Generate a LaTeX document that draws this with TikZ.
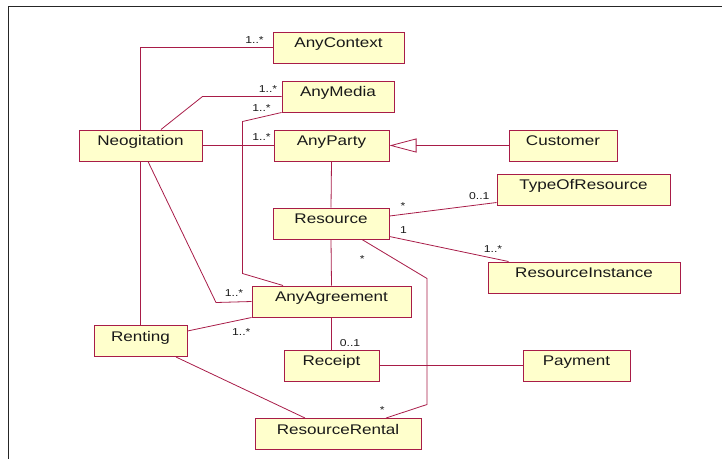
\documentclass[tikz,border=0pt]{standalone}
\usepackage{fontspec}
\setmainfont{Liberation Sans}[FakeStretch=1.22]
\usepackage{tikz}
\usetikzlibrary{arrows.meta}
\definecolor{umlline}{RGB}{168,28,72}
\definecolor{umlfill}{RGB}{255,255,204}
\definecolor{umltext}{RGB}{25,25,25}
\tikzset{% 
  cls/.style = {
    shape=rectangle, draw=umlline, line width=1pt, fill=umlfill,
    text=umltext, inner xsep=0pt, inner ysep=0pt,
    text height=15.5pt, text depth=15.5pt,
    font=\fontsize{14}{16}\selectfont
  },
  mult/.style = {anchor=base, inner sep=0pt, text=umltext,
    font=\fontsize{10}{12}\selectfont},
  assoc/.style = {draw=umlline, line width=0.8pt},
  inherit/.style = {assoc, -{Triangle[open, length=27pt, width=14pt, line width=0.8pt]}}
}

\begin{document}
\begin{tikzpicture}[x=1pt,y=-1pt]
	\useasboundingbox (0,0) rectangle (722,459);
	\draw[line width=1.6pt, black!85] (722,6.5) -- (8.5,6.5) -- (8.5,459);

	\node[cls, minimum width=131] (ctx) at (338.5,47.5) {AnyContext};
	\node[cls, minimum width=112] (media) at (338,96.5) {AnyMedia};
	\node[cls, minimum width=123] (neg) at (140.5,145.5) {Neogitation};
	\node[cls, minimum width=115] (party) at (331.5,145.5) {AnyParty};
	\node[cls, minimum width=108] (cust) at (563,145.5) {Customer};
	\node[cls, minimum width=173] (tor) at (583.5,189.5) {TypeOfResource};
	\node[cls, minimum width=116] (res) at (331,223.5) {Resource};
	\node[cls, minimum width=192] (ri) at (584,277.5) {ResourceInstance};
	\node[cls, minimum width=159] (agr) at (331.5,301.5) {AnyAgreement};
	\node[cls, minimum width=93] (rent) at (140.5,341) {Renting};
	\node[cls, minimum width=95] (rec) at (331.5,365.5) {Receipt};
	\node[cls, minimum width=107] (pay) at (576.5,365.5) {Payment};
	\node[cls, minimum width=166] (rental) at (338,434) {ResourceRental};

	\draw[assoc] (neg.north) |- (ctx.west);
	\draw[assoc] (neg.south) -- (rent.north);
	\draw[assoc] ([xshift=20.5pt]neg.north) -- (neg.east |- media.west) -- (media.west);
	\draw[assoc] (media.south west) -- ++(-39,9) -- ++(0,152) -- ([xshift=-48.5pt]agr.north);
	\draw[assoc] (neg.east) -- (party.west);
	\draw[inherit] (cust.west) -- (party.east);
	\draw[assoc] (party.south) -- (res.north);
	\draw[assoc] ([yshift=7.5pt]res.east) -- ([yshift=3pt]tor.south west);
	\draw[assoc] ([yshift=3pt]res.south east) -- ([xshift=21pt]ri.north west);
	\draw[assoc] (res.south) -- (agr.north);
	\draw[assoc] ([xshift=31pt]res.south) -- ++(65,39) -- ++(0,126) -- ([xshift=48pt]rental.north);
	\draw[assoc] ([xshift=7.5pt]neg.south) -- ++(68,141) -- (agr.west);
	\draw[assoc] ([yshift=10pt]rent.east) -- (agr.south west);
	\draw[assoc] (agr.south) -- (rec.north);
	\draw[assoc] (rec.east) -- (pay.west);
	\draw[assoc] ([xshift=35.5pt]rent.south) -- ([xshift=-33pt]rental.north);

	\node[mult] (m-ctx) at (254.5,43) {1..*};
	\node[mult] (m-media) at (268,92) {1..*};
	\node[mult] (m-media-agr) at (261.5,111.5) {1..*};
	\node[mult] (m-party) at (261.5,140) {1..*};
	\node[mult] (m-res-tor) at (403,209) {*};
	\node[mult] (m-tor) at (479.3,199.3) {0..1};
	\node[mult] (m-res-ri) at (403.5,233.3) {1};
	\node[mult] (m-ri) at (493,252.7) {1..*};
	\node[mult] (m-res-rental) at (362.3,262) {*};
	\node[mult] (m-neg-agr) at (234,296.7) {1..*};
	\node[mult] (m-rent-agr) at (241.3,335.3) {1..*};
	\node[mult] (m-rec) at (350,346) {0..1};
	\node[mult] (m-rental) at (382.3,413.7) {*};
\end{tikzpicture}
\end{document}
